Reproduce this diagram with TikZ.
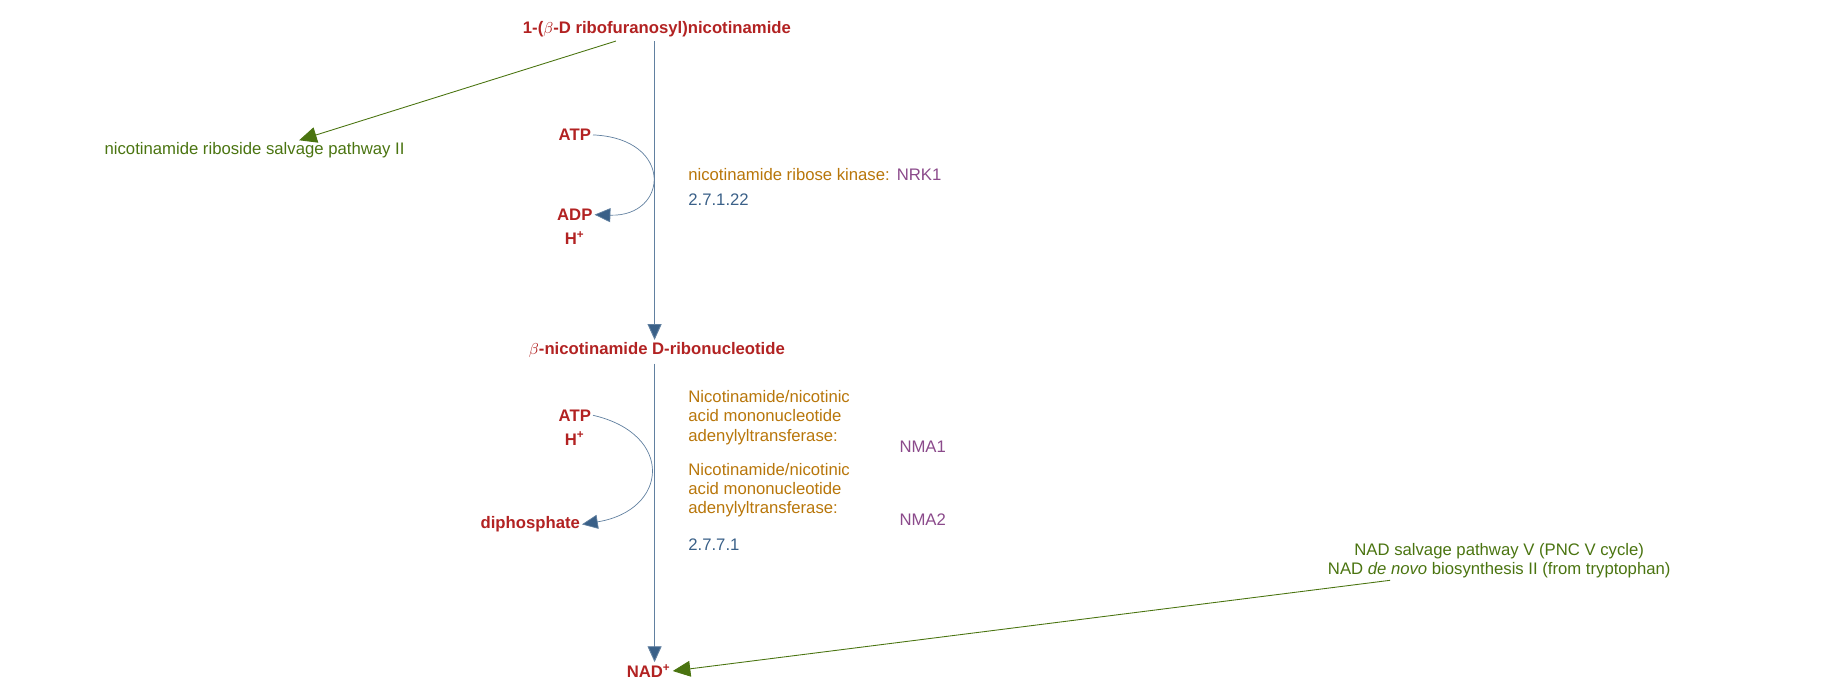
\documentclass[tikz,border=0pt]{standalone}
\usepackage{fontspec}
\setmainfont{Liberation Sans}
\usetikzlibrary{arrows.meta}
\definecolor{cpdred}{HTML}{B22222}
\definecolor{enzorange}{HTML}{B8760A}
\definecolor{genepurple}{HTML}{8B4A8B}
\definecolor{ecblue}{HTML}{3A6088}
\definecolor{pathgreen}{HTML}{4A7410}
\tikzset{
  cpd/.style={text=cpdred, font=\fontsize{9.5}{11}\selectfont\bfseries, inner sep=1pt},
  enz/.style={text=enzorange, font=\fontsize{9.5}{11}\selectfont, inner sep=1pt, anchor=west},
  gene/.style={text=genepurple, font=\fontsize{9.5}{11}\selectfont, inner sep=1pt, anchor=west},
  ec/.style={text=ecblue, font=\fontsize{9.5}{11}\selectfont, inner sep=1pt, anchor=west},
  path/.style={text=pathgreen, font=\fontsize{9.5}{11}\selectfont, inner sep=1pt},
  rxn/.style={draw=ecblue!80, line width=0.5pt, -{Triangle[length=9pt,width=8pt,fill=ecblue]}},
  side/.style={draw=ecblue!80, line width=0.4pt, -{Triangle[length=9pt,width=8pt,fill=ecblue]}},
  link/.style={draw=pathgreen, line width=0.5pt, -{Triangle[length=10pt,width=9pt,fill=pathgreen]}}
}
\begin{document}
\begin{tikzpicture}[x=0.02346cm,y=-0.02346cm]
  \useasboundingbox (0,0) rectangle (1560,586);

  % compounds
  \node[cpd] (nr) at (560,25) {1-($\beta$-D ribofuranosyl)nicotinamide};
  \node[cpd] (nmn) at (560,298) {$\beta$-nicotinamide D-ribonucleotide};
  \node[cpd] (nad) at (553,572) {NAD\textsuperscript{+}};

  % side compounds
  \node[cpd] (atp1) at (490,115) {ATP};
  \node[cpd] (adp1) at (490,183) {ADP};
  \node[cpd] (h1) at (490,203) {H\textsuperscript{+}};
  \node[cpd] (atp2) at (490,354) {ATP};
  \node[cpd] (h2) at (490,374) {H\textsuperscript{+}};
  \node[cpd] (pp) at (452,447) {diphosphate};

  % enzymes
  \node[enz] (e1) at (585,149) {nicotinamide ribose kinase:};
  \node[gene] (g1) at (e1.east) {\,NRK1};
  \node[ec] (ec1) at (585,170) {2.7.1.22};
  \node[enz, align=left, anchor=north west] (e2) at (585,331) {Nicotinamide/nicotinic\\acid mononucleotide\\adenylyltransferase:};
  \node[gene] (g2) at (765,381) {NMA1};
  \node[enz, align=left, anchor=north west] (e3) at (585,393) {Nicotinamide/nicotinic\\acid mononucleotide\\adenylyltransferase:};
  \node[gene] (g3) at (765,443) {NMA2};
  \node[ec] (ec2) at (585,464) {2.7.7.1};

  % pathways
  \node[path] (pw1) at (217,128) {nicotinamide riboside salvage pathway II};
  \node[path, align=center] (pw2) at (1278,478) {NAD salvage pathway V (PNC V cycle)\\NAD \textit{de novo} biosynthesis II (from tryptophan)};

  % reactions
  \draw[rxn] (558,35) -- (nmn.north -| 558,0);
  \draw[rxn] (558,310) -- (nad.north -| 558,0);
  \draw[side] (atp1.east) .. controls (575,118) and (570,185) .. (adp1.east);
  \draw[side] (atp2.east) .. controls (575,370) and (570,435) .. (pp.east);

  % links
  \draw[link] (525,35) -- (pw1.north east -| 255,0);
  \draw[link] (pw2.south west -| 1185,0) -- (nad.east);
\end{tikzpicture}
\end{document}
